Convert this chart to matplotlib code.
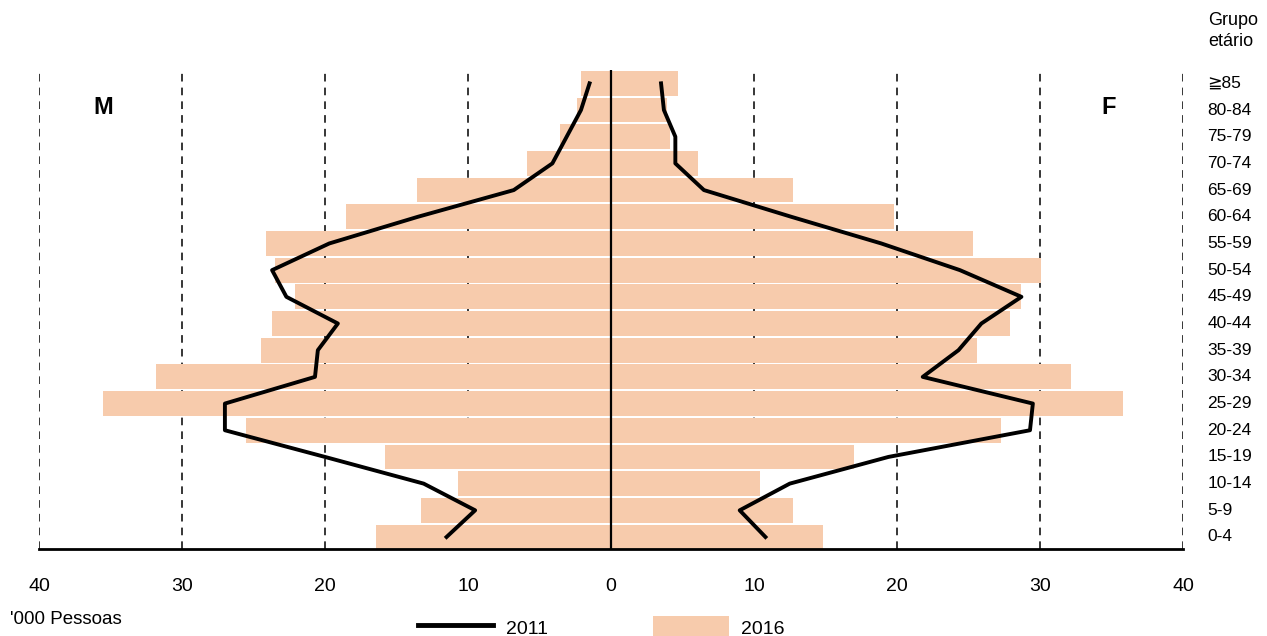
import matplotlib.pyplot as plt
from matplotlib.lines import Line2D
from matplotlib.patches import Patch

# Age groups, bottom to top
age_groups = ['0-4', '5-9', '10-14', '15-19', '20-24', '25-29', '30-34', '35-39', '40-44',
              '45-49', '50-54', '55-59', '60-64', '65-69', '70-74', '75-79', '80-84', '≧85']

# 2016 bars ('000 persons)
male_2016 = [16.4, 13.3, 10.7, 15.8, 25.5, 35.5, 31.8, 24.5, 23.7,
             22.1, 23.5, 24.1, 18.5, 13.6, 5.9, 3.6, 2.4, 2.1]
female_2016 = [14.8, 12.7, 10.4, 17.0, 27.3, 35.8, 32.2, 25.6, 27.9,
               28.7, 30.1, 25.3, 19.8, 12.7, 6.1, 4.1, 3.9, 4.7]

# 2011 lines ('000 persons)
male_2011 = [11.5, 9.5, 13.1, 20.0, 27.0, 27.0, 20.7, 20.5, 19.1,
             22.7, 23.7, 19.7, 13.5, 6.8, 4.1, 3.1, 2.1, 1.5]
female_2011 = [10.8, 9.0, 12.5, 19.4, 29.3, 29.5, 21.8, 24.3, 25.9,
               28.7, 24.4, 18.9, 12.6, 6.5, 4.5, 4.5, 3.7, 3.5]

xticks = [-40, -30, -20, -10, 0, 10, 20, 30, 40]

bar_color = '#F7CBAC'
plt.rcParams['font.family'] = ['Liberation Sans', 'DejaVu Sans']

fig = plt.figure(figsize=(12.67, 6.36), dpi=100)
ax = fig.add_axes([39 / 1267, 1 - 549 / 636, (1183 - 39) / 1267, (549 - 70) / 636])

y = list(range(len(age_groups)))

# Bars for 2016
ax.barh(y, [-v for v in male_2016], height=0.93, color=bar_color, zorder=2)
ax.barh(y, female_2016, height=0.93, color=bar_color, zorder=2)

# Lines for 2011
ax.plot([-v for v in male_2011], y, color='black', linewidth=2.8, zorder=4)
ax.plot(female_2011, y, color='black', linewidth=2.8, zorder=4)

# Dashed grid lines and center axis
for t in xticks:
    if t == 0:
        ax.axvline(0, color='black', linewidth=1.6, zorder=5)
    else:
        ax.axvline(t, color='black', linewidth=1.1, linestyle=(0, (5, 4)), zorder=1)

ax.set_xlim(-40, 40)
ax.set_ylim(-0.45, 17.5)

for s in ['top', 'left', 'right']:
    ax.spines[s].set_visible(False)
ax.spines['bottom'].set_linewidth(2)
ax.spines['bottom'].set_zorder(6)

ax.set_yticks([])
ax.set_xticks(xticks)
ax.set_xticklabels([str(abs(t)) for t in xticks], fontsize=14)
ax.tick_params(axis='x', length=0, pad=21)

# Age group labels on the right
for i, lab in enumerate(age_groups):
    ax.text(41.7, i, lab, fontsize=12.5, va='center', ha='left', clip_on=False)
fig.text(1208 / 1267, 1 - 31 / 636, 'Grupo\netário', fontsize=13, va='center', ha='left',
         linespacing=1.35)

# Sex labels
ax.text(-35.5, 16.1, 'M', fontsize=17, fontweight='bold', ha='center', va='center')
ax.text(34.8, 16.1, 'F', fontsize=17, fontweight='bold', ha='center', va='center')

fig.text(10 / 1267, 1 - 620 / 636, "'000 Pessoas", fontsize=13.5, va='center', ha='left')

# Legend
handles = [Line2D([0], [0], color='black', linewidth=3.5),
           Patch(facecolor=bar_color, edgecolor='none')]
fig.legend(handles, ['2011', '2016'], ncol=2, frameon=False, fontsize=14,
           loc='upper left', bbox_to_anchor=(400 / 1267, 1 - 599 / 636),
           handlelength=3.9, handleheight=1.4, handletextpad=0.65, columnspacing=5.4)

plt.savefig('out.png', dpi=100)
